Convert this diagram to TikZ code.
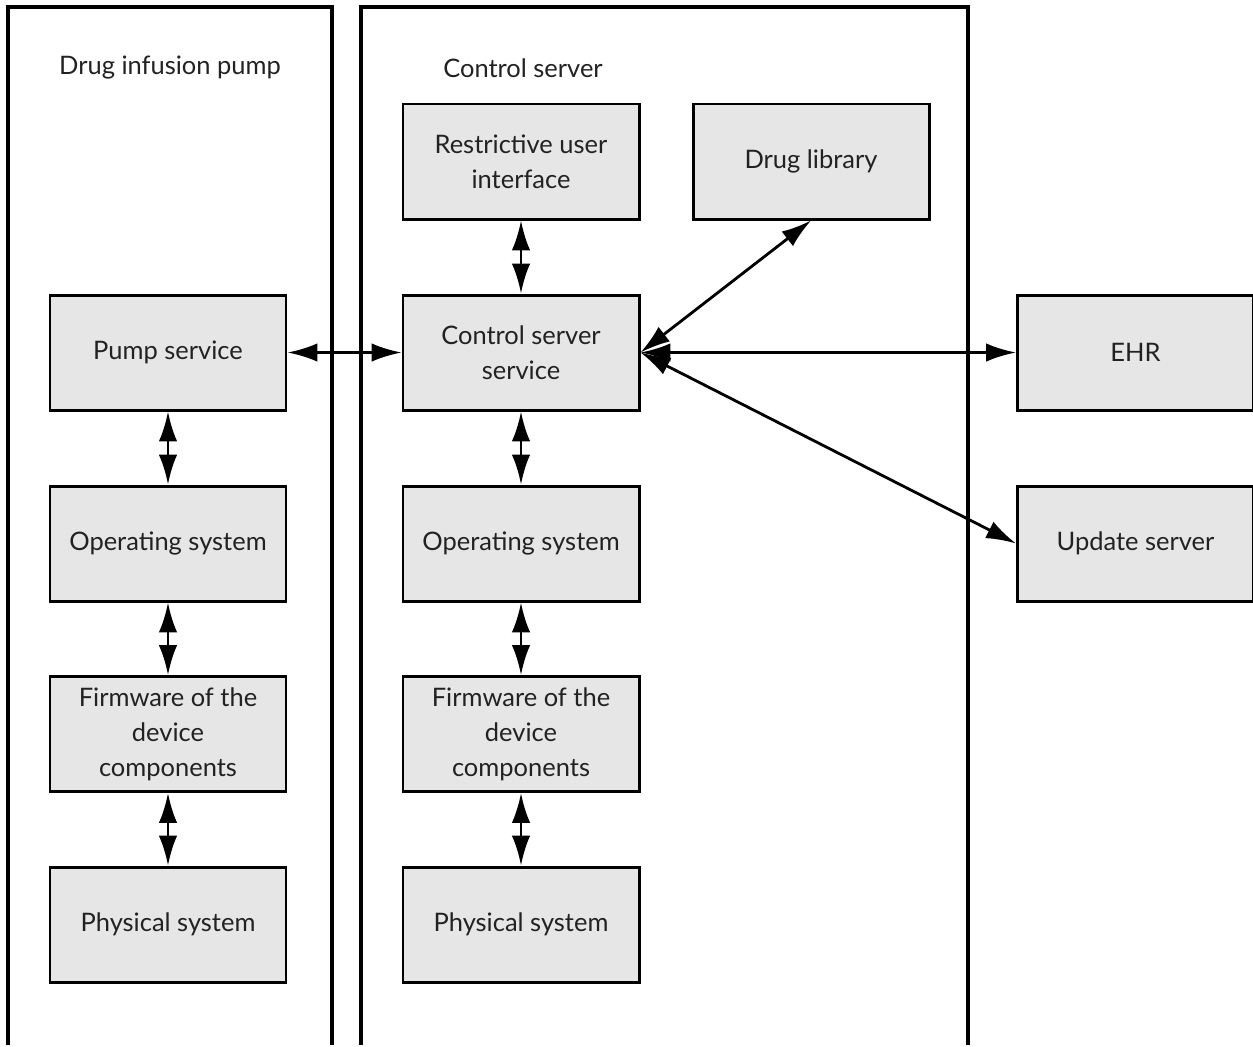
\documentclass[tikz,border=0pt]{standalone}
\usepackage{fontspec}
\setmainfont{Lato}
\usetikzlibrary{arrows.meta}
\definecolor{boxgray}{HTML}{E6E6E6}
\definecolor{inkgray}{HTML}{222222}
\begin{document}
\begin{tikzpicture}[
        layer/.style={draw, line width=1.7pt, fill=boxgray, minimum width=4.72cm,
            minimum height=2.3cm, align=center, inner sep=2pt, text=inkgray,
            font=\fontsize{14.5}{20}\selectfont},
        link/.style={<->, line width=1.6pt, >={Latex[length=17pt,width=10.5pt]}},
        title/.style={text=inkgray, font=\fontsize{14.5}{20}\selectfont}
    ]
    \useasboundingbox (0, 0) rectangle (25.06, -20.92);
        % the two containers
        \draw[line width=1.8pt](0.16, -20.9) -- (0.16, -0.14) -- (6.64, -0.14) -- (6.64, -20.9);
            \node[title] (pumptitle) at (3.4, -1.36){Drug infusion pump};
        \draw[line width=1.8pt](7.22, -20.9) -- (7.22, -0.14) -- (19.36, -0.14) -- (19.36, -20.9);
            \node[title] (servertitle) at (10.46, -1.36){Control server};

        % pump stack
        \node[layer] (pump) at (3.36, -7.05){Pump service};
        \node[layer] (pumpos) at (3.36, -10.87){Operating system};
        \node[layer] (pumpfw) at (3.36, -14.68){Firmware of the\\device\\components};
        \node[layer] (pumpphys) at (3.36, -18.49){Physical system};

        % server stack
        \node[layer] (ui) at (10.42, -3.23){Restrictive user\\interface};
        \node[layer] (css) at (10.42, -7.05){Control server\\service};
        \node[layer] (srvos) at (10.42, -10.87){Operating system};
        \node[layer] (srvfw) at (10.42, -14.68){Firmware of the\\device\\components};
        \node[layer] (srvphys) at (10.42, -18.49){Physical system};
        \node[layer] (druglib) at (16.22, -3.23){Drug library};

        % outside
        \node[layer] (ehr) at (22.71, -7.05){EHR};
        \node[layer] (update) at (22.71, -10.87){Update server};

        \draw[link](pump.east) to (css.west);
        \draw[link](pump.south) to (pumpos.north);
        \draw[link](pumpos.south) to (pumpfw.north);
        \draw[link](pumpfw.south) to (pumpphys.north);
        \draw[link](ui.south) to (css.north);
        \draw[link](css.south) to (srvos.north);
        \draw[link](srvos.south) to (srvfw.north);
        \draw[link](srvfw.south) to (srvphys.north);
        \draw[link](druglib.south) to (css.east);
        \draw[link](css.east) to (ehr.west);
        \draw[link](css.east) to (update.west);
    \end{tikzpicture}
\end{document}
